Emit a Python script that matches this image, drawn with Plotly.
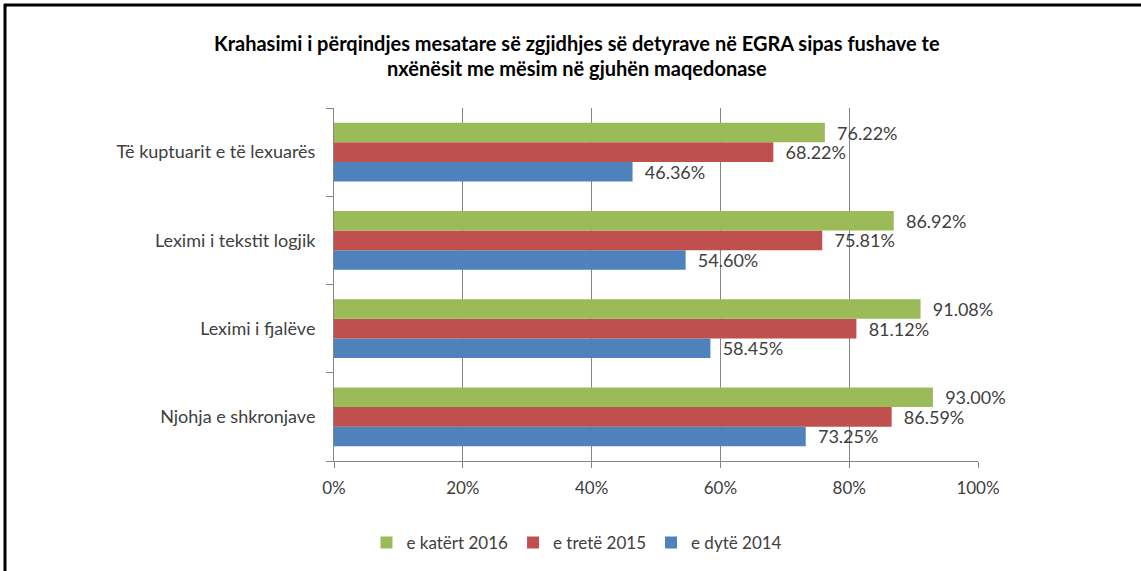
import plotly.graph_objects as go

categories = ["Njohja e shkronjave", "Leximi i fjalëve", "Leximi i tekstit logjik", "Të kuptuarit e të lexuarës"]
series_names = ["e dytë 2014", "e tretë 2015", "e katërt 2016"]
values_2014 = [73.25, 58.45, 54.60, 46.36]
values_2015 = [86.59, 81.12, 75.81, 68.22]
values_2016 = [93.00, 91.08, 86.92, 76.22]
colors = ["#4F81BD", "#C0504D", "#9BBB59"]
x_ticks = [0, 20, 40, 60, 80, 100]
x_tick_labels = ["0%", "20%", "40%", "60%", "80%", "100%"]
title_lines = ["Krahasimi i përqindjes mesatare së zgjidhjes së detyrave në EGRA sipas fushave te",
               "nxënësit me mësim në gjuhën maqedonase"]

FONT = "Lato"
W, H = 1141, 571
L, R, T, B = 334, 978, 108, 461

fig = go.Figure()
for name, vals, col in zip(series_names, [values_2014, values_2015, values_2016], colors):
    fig.add_trace(go.Bar(
        y=categories, x=vals, name=name, orientation="h",
        marker=dict(color=col, line=dict(width=0)),
        text=[f"{v:.2f}%" for v in vals],
        texttemplate="  %{text}",
        textposition="outside",
        constraintext="none",
        textfont=dict(family=FONT, size=18, color="#404040"),
        cliponaxis=False,
    ))

def px_x(p):
    return (p - L) / (R - L)

def px_y(p):
    return (B - p) / (B - T)

annotations = []
for i, line in enumerate(title_lines):
    annotations.append(dict(
        text=line, xref="paper", yref="paper", x=px_x(577), y=px_y(43 + 25 * i),
        xanchor="center", yanchor="middle", showarrow=False,
        font=dict(family=FONT, size=20, color="black", weight="bold"),
    ))

fig.update_layout(
    width=W, height=H,
    margin=dict(l=L, r=W - R, t=T, b=H - B, autoexpand=False),
    paper_bgcolor="white", plot_bgcolor="white",
    barmode="group", bargap=0.337, bargroupgap=0,
    annotations=annotations,
    showlegend=True,
    legend=dict(orientation="h", traceorder="reversed", x=px_x(577), xanchor="center",
                y=px_y(543), yanchor="middle", font=dict(family=FONT, size=17, color="#404040"),
                itemwidth=30, tracegroupgap=0),
    xaxis=dict(range=[0, 100], tickvals=x_ticks, ticktext=x_tick_labels,
               showgrid=True, gridcolor="#868686", gridwidth=1,
               showline=True, linecolor="#868686", linewidth=1,
               ticks="outside", ticklen=6, tickcolor="#868686", ticklabelstandoff=6,
               tickfont=dict(family=FONT, size=17, color="#404040"), zeroline=False, fixedrange=True),
    yaxis=dict(categoryorder="array", categoryarray=categories,
               showline=True, linecolor="#868686", linewidth=1,
               ticks="outside", ticklen=7, tickcolor="#868686", tickson="boundaries",
               tickfont=dict(family=FONT, size=18, color="#404040"), ticklabelstandoff=14,
               showgrid=False, fixedrange=True),
    shapes=[
        dict(type="line", xref="paper", yref="paper", x0=px_x(4), x1=px_x(W + 5), y0=px_y(5), y1=px_y(5),
             line=dict(color="black", width=3)),
        dict(type="line", xref="paper", yref="paper", x0=px_x(5), x1=px_x(5), y0=px_y(4), y1=px_y(H + 5),
             line=dict(color="black", width=3)),
    ],
)

fig.write_html("out.html", config={"displayModeBar": False},
               post_script="document.body.style.margin='0';document.body.style.overflow='hidden';")
